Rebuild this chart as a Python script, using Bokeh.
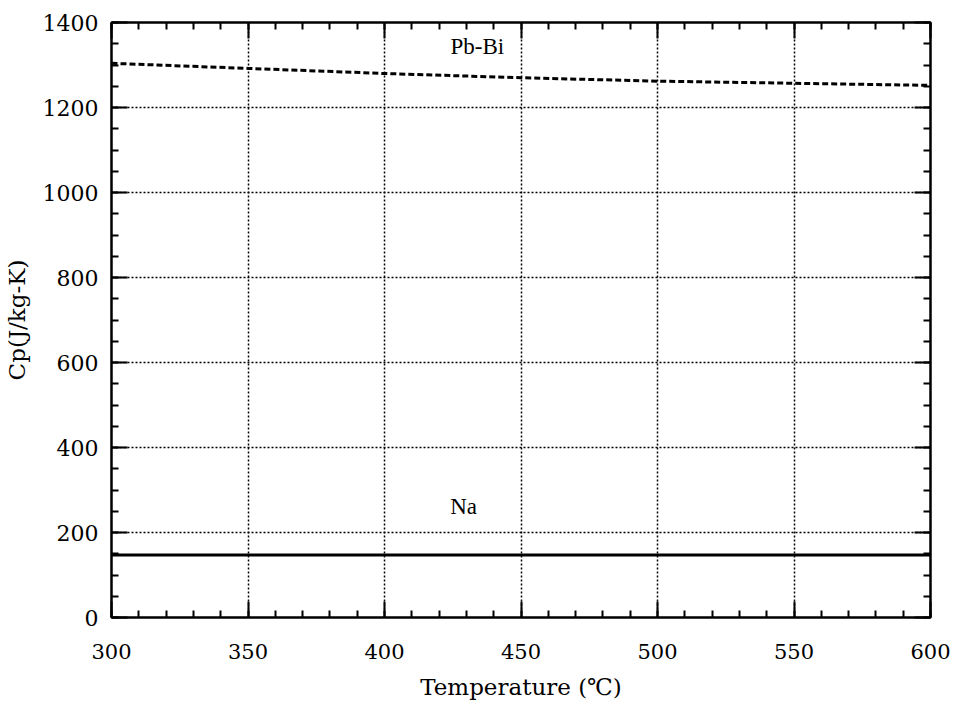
from bokeh.plotting import figure
from bokeh.models import Range1d, SingleIntervalTicker, LinearAxis, ColumnDataSource
from bokeh.core.properties import value
from bokeh.embed import file_html
from bokeh.resources import INLINE

# ---- data ----
temperature = [300, 350, 400, 450, 500, 550, 600]
cp_pbbi = [1304, 1292, 1280, 1270, 1262, 1257, 1252]
cp_na = [147, 147, 147, 147, 147, 147, 147]

series_labels = ["Pb-Bi", "Na"]
label_temp = [434, 429]
label_cp = [1344, 261]

x_ticks_interval = 50
y_ticks_interval = 200

SERIF = "DejaVu Serif"

p = figure(width=954, height=711, output_backend="svg", toolbar_location=None,
           x_range=Range1d(300, 600), y_range=Range1d(0, 1400),
           min_border_left=111, min_border_right=24, min_border_top=22,
           min_border_bottom=94, background_fill_color="white",
           border_fill_color="white")
p.outline_line_color = "black"
p.outline_line_width = 2

xt = SingleIntervalTicker(interval=x_ticks_interval, num_minor_ticks=5)
yt = SingleIntervalTicker(interval=y_ticks_interval, num_minor_ticks=4)
p.xaxis.ticker = xt
p.yaxis.ticker = yt
p.xgrid.ticker = xt
p.ygrid.ticker = yt

for g in (p.xgrid, p.ygrid):
    g.grid_line_color = "black"
    g.grid_line_width = 1.5
    g.grid_line_dash = "2 2"

def style_axis(ax, show_labels):
    ax.axis_line_color = "black"
    ax.axis_line_width = 2
    ax.major_tick_in = 16
    ax.major_tick_out = 0
    ax.minor_tick_in = 7
    ax.minor_tick_out = 0
    ax.major_tick_line_width = 2
    ax.minor_tick_line_width = 2
    ax.major_tick_line_color = "black"
    ax.minor_tick_line_color = "black"
    if show_labels:
        ax.major_label_text_font = SERIF
        ax.major_label_text_color = "black"
        ax.axis_label_text_font = SERIF
        ax.axis_label_text_font_style = "normal"
        ax.axis_label_text_color = "black"
    else:
        ax.major_label_text_font_size = "0px"
        ax.major_label_text_alpha = 0

style_axis(p.xaxis[0], True)
style_axis(p.yaxis[0], True)
p.xaxis.major_label_text_font_size = "21px"
p.yaxis.major_label_text_font_size = "22px"
p.xaxis.major_label_standoff = 26
p.yaxis.major_label_standoff = 13
p.xaxis.axis_label = "Temperature (℃)"
p.yaxis.axis_label = "Cp(J/kg-K)"
p.xaxis.axis_label_text_font_size = "23px"
p.yaxis.axis_label_text_font_size = "23px"
p.xaxis.axis_label_standoff = 12
p.yaxis.axis_label_standoff = 10

top = LinearAxis(ticker=xt)
style_axis(top, False)
p.add_layout(top, "above")
right = LinearAxis(ticker=yt)
style_axis(right, False)
p.add_layout(right, "right")

src = ColumnDataSource(dict(t=temperature, pb=cp_pbbi, na=cp_na))
p.line("t", "pb", source=src, line_color="black", line_width=3, line_dash="6 3")
p.line("t", "na", source=src, line_color="black", line_width=3)

lsrc = ColumnDataSource(dict(x=label_temp, y=label_cp, txt=series_labels))
p.text("x", "y", text="txt", source=lsrc, text_font=value("Liberation Serif"),
       text_font_size="23px", text_align="center", text_baseline="middle",
       text_color="black")

open("out.html", "w").write(file_html(p, INLINE))
